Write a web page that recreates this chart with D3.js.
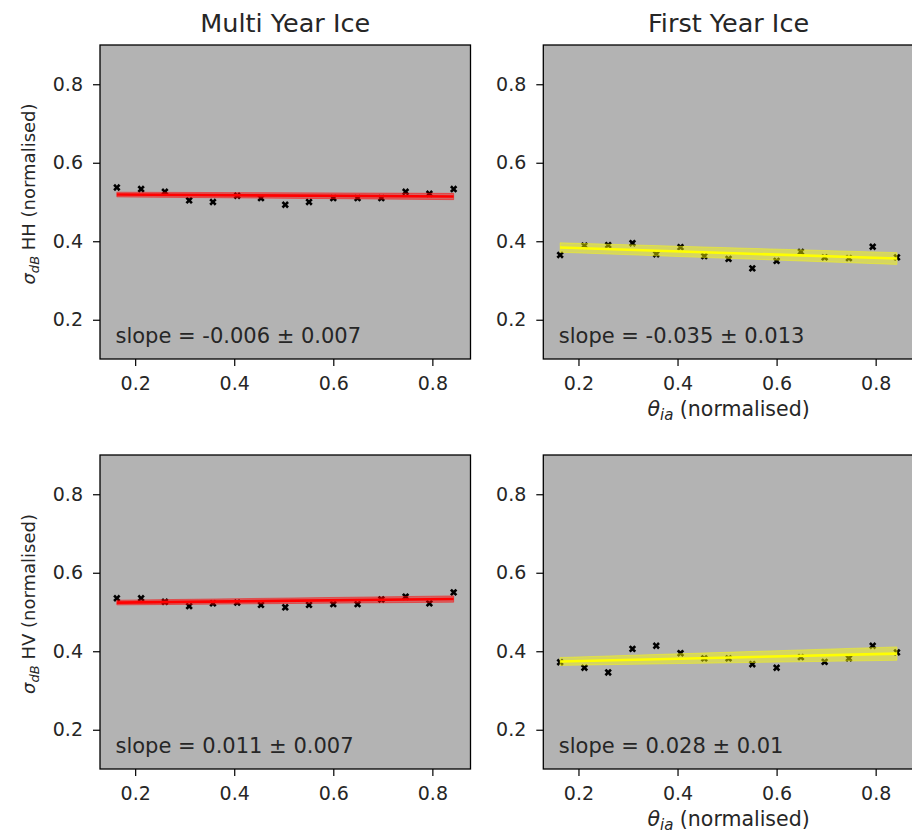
<!DOCTYPE html>
<html>
<head>
<meta charset="utf-8">
<script src="https://cdn.jsdelivr.net/npm/d3@7"></script>
<style>
  body { margin: 0; background: #fff; overflow: hidden; }
  text { font-family: "DejaVu Sans", sans-serif; fill: #262626; }
</style>
</head>
<body>
<script>
// incidence angle (normalised), same for every panel
const thetaIa = [0.163, 0.212, 0.260, 0.309, 0.357, 0.406, 0.454, 0.503, 0.551, 0.600, 0.649, 0.697, 0.746, 0.794, 0.843];

const myiHH = [0.537, 0.533, 0.526, 0.504, 0.500, 0.516, 0.510, 0.493, 0.500, 0.510, 0.510, 0.510, 0.526, 0.521, 0.533];
const fyiHH = [0.365, 0.389, 0.390, 0.395, 0.367, 0.385, 0.362, 0.355, 0.331, 0.350, 0.373, 0.359, 0.357, 0.386, 0.359];
const myiHV = [0.535, 0.535, 0.526, 0.515, 0.522, 0.524, 0.518, 0.512, 0.518, 0.520, 0.520, 0.532, 0.539, 0.522, 0.550];
const fyiHV = [0.372, 0.358, 0.346, 0.406, 0.414, 0.395, 0.382, 0.382, 0.367, 0.358, 0.385, 0.373, 0.382, 0.414, 0.397];

// fitted line value at first / last x, and half width of the shaded band there
const fitEnds = [[0.519, 0.514], [0.384, 0.356], [0.524, 0.533], [0.374, 0.394]];
const bandHalf = [[0.006, 0.008], [0.012, 0.015], [0.006, 0.008], [0.010, 0.017]];
const slopeText = ["slope = -0.006 \u00b1 0.007", "slope = -0.035 \u00b1 0.013", "slope = 0.011 \u00b1 0.007", "slope = 0.028 \u00b1 0.01"];

const colTitles = ["Multi Year Ice", "First Year Ice"];
const yTicks = [0.2, 0.4, 0.6, 0.8];
const xTicks = [0.2, 0.4, 0.6, 0.8];

const panels = [
  {row: 0, col: 0, y: myiHH, color: "#ff0000", band: "rgba(255,0,0,0.45)"},
  {row: 0, col: 1, y: fyiHH, color: "#ffff00", band: "rgba(255,255,0,0.45)"},
  {row: 1, col: 0, y: myiHV, color: "#ff0000", band: "rgba(255,0,0,0.45)"},
  {row: 1, col: 1, y: fyiHV, color: "#ffff00", band: "rgba(255,255,0,0.45)"}
];

let width = 912, height = 835;
let colLeft = [100, 543.3], panelW = 370.5;
let rowTop = [45, 455], panelH = 314;

let svg = d3.select('body').append('svg').attr('width', width).attr('height', height);

let x = d3.scaleLinear().domain([0.129, 0.877]).range([0, panelW]);
let y = d3.scaleLinear().domain([0.1, 0.9]).range([panelH, 0]);

let marker = d3.symbol().type(d3.symbolCross).size(34);

panels.forEach((p, i) => {
  let g = svg.append('g').attr('transform', `translate(${colLeft[p.col]},${rowTop[p.row]})`);

  g.append('rect').attr('width', panelW).attr('height', panelH).attr('fill', '#b3b3b3');

  let pts = thetaIa.map((t, k) => [t, p.y[k]]);
  g.selectAll('path.pt')
    .data(pts)
    .enter()
      .append('path')
      .attr('class', 'pt')
      .attr('d', marker)
      .attr('transform', d => `translate(${x(d[0])},${y(d[1])}) rotate(45)`)
      .attr('fill', '#000');

  // shaded band and fit line
  let x0 = thetaIa[0], x1 = thetaIa[thetaIa.length - 1];
  let f = fitEnds[i], h = bandHalf[i];
  let bandPts = [[x0, f[0] + h[0]], [x1, f[1] + h[1]], [x1, f[1] - h[1]], [x0, f[0] - h[0]]];
  g.append('path')
    .attr('d', d3.line().x(d => x(d[0])).y(d => y(d[1]))(bandPts) + 'Z')
    .attr('fill', p.band)
    .attr('stroke', p.band)
    .attr('stroke-width', 1);
  g.append('line')
    .attr('x1', x(x0)).attr('y1', y(f[0]))
    .attr('x2', x(x1)).attr('y2', y(f[1]))
    .attr('stroke', p.color).attr('stroke-width', 2.6);

  g.append('text')
    .attr('x', 15.5).attr('y', panelH - 16)
    .attr('font-size', 21)
    .text(slopeText[i]);

  // axes
  g.append('g').attr('transform', `translate(0,${panelH})`)
    .call(d3.axisBottom(x).tickValues(xTicks).tickFormat(d3.format('.1f')).tickSizeOuter(0).tickSize(7).tickPadding(11));
  g.append('g')
    .call(d3.axisLeft(y).tickValues(yTicks).tickFormat(d3.format('.1f')).tickSizeOuter(0).tickSize(7).tickPadding(10));

  g.selectAll('.tick text').attr('font-size', 19).attr('font-family', 'DejaVu Sans').attr('fill', '#262626');
  g.selectAll('.tick line').attr('stroke', '#000').attr('stroke-width', 1.2);
  g.selectAll('.domain').remove();

  g.append('rect').attr('width', panelW).attr('height', panelH)
    .attr('fill', 'none').attr('stroke', '#000').attr('stroke-width', 1.3);

  if (p.row == 0) {
    g.append('text')
      .attr('x', panelW / 2).attr('y', -13)
      .attr('text-anchor', 'middle')
      .attr('font-size', 25.5)
      .text(colTitles[p.col]);
  }
  if (p.col == 1) {
    let xl = g.append('text')
      .attr('x', panelW / 2).attr('y', panelH + 57)
      .attr('text-anchor', 'middle')
      .attr('font-size', 20.5);
    xl.append('tspan').attr('font-style', 'italic').text('\u03b8');
    xl.append('tspan').attr('font-style', 'italic').attr('font-size', 15).attr('dy', 4).text('ia');
    xl.append('tspan').attr('dy', -4).text(' (normalised)');
  }
  if (p.col == 0) {
    let yl = g.append('text')
      .attr('transform', `translate(-65,${panelH / 2 - 8}) rotate(-90)`)
      .attr('text-anchor', 'middle')
      .attr('font-size', 18);
    yl.append('tspan').attr('font-style', 'italic').text('\u03c3');
    yl.append('tspan').attr('font-style', 'italic').attr('font-size', 13).attr('dy', 4).text('dB');
    yl.append('tspan').attr('dy', -4).text(p.row == 0 ? ' HH (normalised)' : ' HV (normalised)');
  }
});
</script>
</body>
</html>
